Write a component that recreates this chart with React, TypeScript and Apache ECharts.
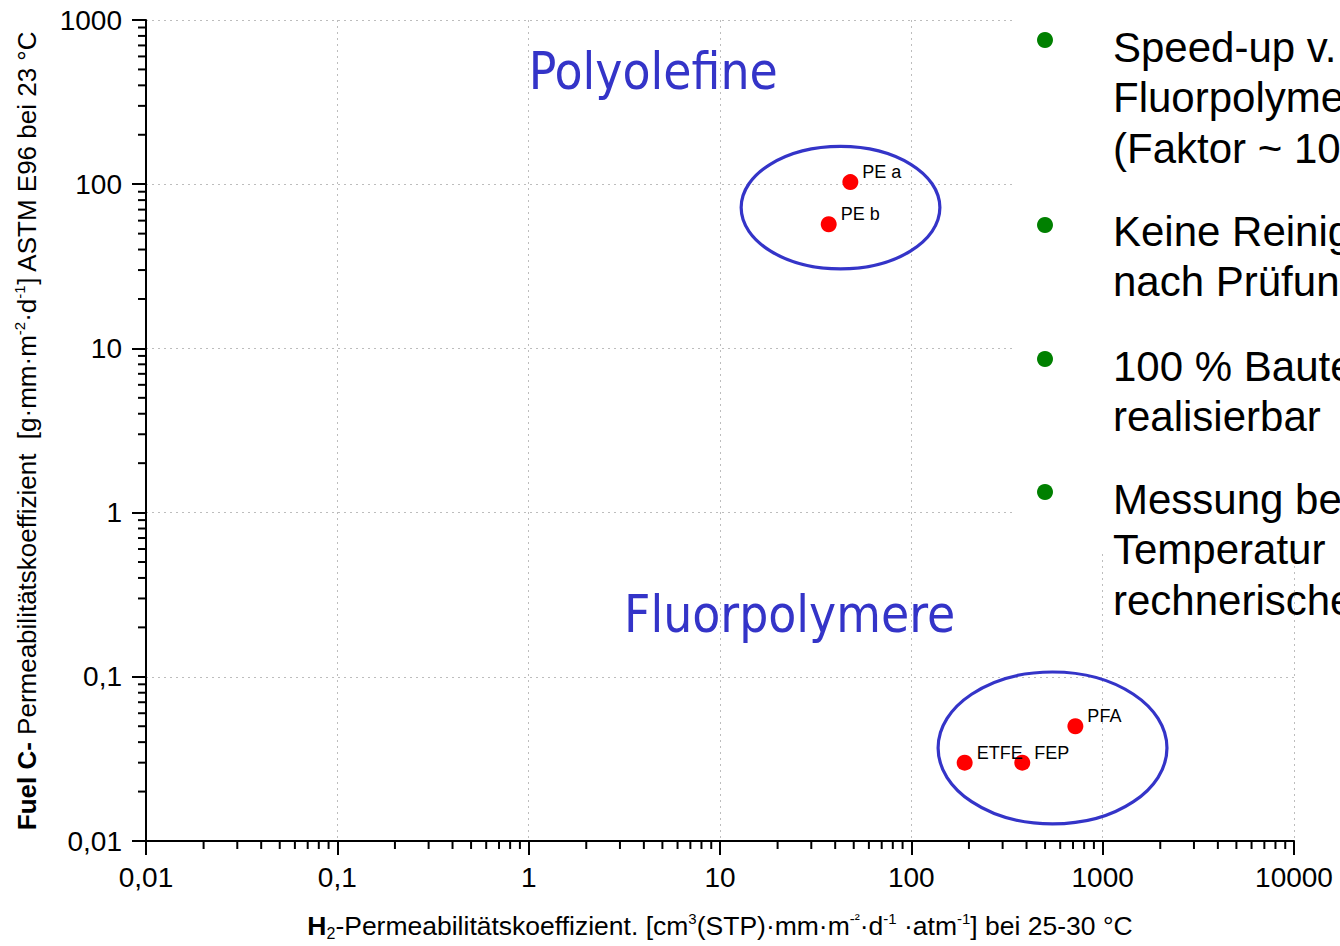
import React, { useEffect, useRef } from 'react';
import * as echarts from 'echarts';

// ---- data ----
const materials = ['PE a', 'PE b', 'ETFE', 'FEP', 'PFA'];
const h2Permeability = [48, 37, 190, 380, 720];
const fuelCPermeability = [103, 57, 0.03, 0.03, 0.05];

const groupNames = ['Polyolefine', 'Fluorpolymere'];
const groupLabelPos = [[1.0, 484], [3.15, 0.241]];
const groupEllipseX = [[12.9, 141], [138, 2168]];
const groupEllipseY = [[30.5, 170], [0.0127, 0.107]];

const xTickLabels = ['0,01', '0,1', '1', '10', '100', '1000', '10000'];
const yTickLabels = ['0,01', '0,1', '1', '10', '100', '1000'];

const bulletGroups = [
  ['Speed-up v.', 'Fluorpolymere', '(Faktor ~ 10)'],
  ['Keine Reinigung', 'nach Prüfung'],
  ['100 % Bauteile', 'realisierbar'],
  ['Messung bei', 'Temperatur', 'rechnerische'],
];

const X_MIN = 0.01, X_MAX = 10000, Y_MIN = 0.01, Y_MAX = 1000;

const minorTicks = (lo: number, hi: number) => {
  const out: number[] = [];
  for (let d = Math.round(Math.log10(lo)); d < Math.round(Math.log10(hi)); d++) {
    for (let m = 2; m <= 9; m++) out.push(Number((m * Math.pow(10, d)).toPrecision(3)));
  }
  return out;
};
const xMinor = minorTicks(X_MIN, X_MAX);
const yMinor = minorTicks(Y_MIN, Y_MAX);

const FONT = '"Liberation Sans", Arial, sans-serif';
const BLUE = '#3434c8';

const fmt = (v: number) => String(Number(v.toPrecision(6))).replace('.', ',');

const supStyle = { fontSize: 15, lineHeight: 15, verticalAlign: 'top', fontFamily: FONT, color: '#000' };
const subStyle = { fontSize: 16, lineHeight: 16, verticalAlign: 'bottom', fontFamily: FONT, color: '#000' };
const nStyleX = { fontSize: 26.5, fontFamily: FONT, color: '#000', lineHeight: 30 };
const bStyleX = { ...nStyleX, fontWeight: 'bold' };
const nStyleY = { fontSize: 26, fontFamily: FONT, color: '#000', lineHeight: 30 };
const bStyleY = { ...nStyleY, fontWeight: 'bold' };

export default function App() {
  const ref = useRef<HTMLDivElement>(null);
  useEffect(() => {
    const chart = echarts.init(ref.current!, null, { renderer: 'svg' });

    const bulletY = [47, 231, 366, 499];
    const dotY = [40, 225, 359, 492];
    const graphics: any[] = [
      { type: 'rect', z: 100, shape: { x: 1015, y: 0, width: 325, height: 550 }, style: { fill: '#fff' } },
    ];
    bulletGroups.forEach((lines, gi) => {
      graphics.push({ type: 'circle', z: 101, shape: { cx: 1045, cy: dotY[gi], r: 8 }, style: { fill: '#008000' } });
      lines.forEach((t, li) => {
        graphics.push({
          type: 'text', z: 101, x: 1113, y: bulletY[gi] + li * 50.5,
          style: { text: t, fontSize: 42, fontFamily: FONT, fill: '#000', verticalAlign: 'middle', align: 'left' },
        });
      });
    });

    const option: any = {
      animation: false,
      backgroundColor: '#fff',
      grid: { left: 146, right: 46, top: 20, bottom: 101, containLabel: false },
      xAxis: {
        type: 'log', logBase: 10, min: X_MIN, max: X_MAX,
        name: '{b|H}{sub|2}{n|-Permeabilitätskoeffizient. [cm}{sup|3}{n|(STP)·mm·m}{sup|-²}{n|·d}{sup|-1}{n| ·atm}{sup|-1}{n|] bei 25-30 °C}',
        nameLocation: 'middle', nameGap: 70,
        nameTextStyle: { ...nStyleX, rich: { n: nStyleX, b: bStyleX, sup: supStyle, sub: subStyle } },
        axisLine: { show: true, lineStyle: { color: '#000', width: 2 } },
        axisTick: { show: true, inside: false, length: 14, lineStyle: { color: '#000', width: 2 } },
        axisLabel: {
          margin: 22, fontSize: 28, fontFamily: FONT, color: '#000',
          formatter: (v: number) => { const s = fmt(v); return xTickLabels.includes(s) ? s : ''; },
        },
        splitLine: { show: true, lineStyle: { color: '#bdbdbd', width: 1, type: [2, 4] } },
      },
      yAxis: {
        type: 'log', logBase: 10, min: Y_MIN, max: Y_MAX,
        name: '{b|Fuel C-}{n| Permeabilitätskoeffizient  [g·mm·m}{sup|-2}{n|·d}{sup|-1}{n|] ASTM E96 bei 23 °C}',
        nameLocation: 'middle', nameRotate: 90, nameGap: 104,
        nameTextStyle: { ...nStyleY, rich: { n: nStyleY, b: bStyleY, sup: supStyle } },
        axisLine: { show: true, lineStyle: { color: '#000', width: 2 } },
        axisTick: { show: true, inside: false, length: 14, lineStyle: { color: '#000', width: 2 } },
        axisLabel: {
          margin: 24, fontSize: 28, fontFamily: FONT, color: '#000',
          formatter: (v: number) => { const s = fmt(v); return yTickLabels.includes(s) ? s : ''; },
        },
        splitLine: { show: true, lineStyle: { color: '#bdbdbd', width: 1, type: [2, 4] } },
      },
      series: [
        {
          type: 'custom', silent: true, clip: false, z: 3,
          data: xMinor.map((v) => [v, Y_MIN]),
          renderItem: (_p: any, api: any) => {
            const pt = api.coord([api.value(0), api.value(1)]);
            return { type: 'line', shape: { x1: pt[0], y1: pt[1], x2: pt[0], y2: pt[1] + 8 }, style: { stroke: '#000', lineWidth: 2 } };
          },
        },
        {
          type: 'custom', silent: true, clip: false, z: 3,
          data: yMinor.map((v) => [X_MIN, v]),
          renderItem: (_p: any, api: any) => {
            const pt = api.coord([api.value(0), api.value(1)]);
            return { type: 'line', shape: { x1: pt[0] - 8, y1: pt[1], x2: pt[0], y2: pt[1] }, style: { stroke: '#000', lineWidth: 2 } };
          },
        },
        {
          type: 'custom', silent: true, clip: false, z: 3,
          data: groupNames.map((_n, i) => [groupEllipseX[i][0], groupEllipseY[i][0], groupEllipseX[i][1], groupEllipseY[i][1]]),
          encode: { x: [0, 2], y: [1, 3] },
          renderItem: (_p: any, api: any) => {
            const a = api.coord([api.value(0), api.value(1)]);
            const b = api.coord([api.value(2), api.value(3)]);
            return {
              type: 'ellipse',
              shape: { cx: (a[0] + b[0]) / 2, cy: (a[1] + b[1]) / 2, rx: Math.abs(b[0] - a[0]) / 2, ry: Math.abs(b[1] - a[1]) / 2 },
              style: { fill: 'none', stroke: BLUE, lineWidth: 3.2 },
            };
          },
        },
        {
          type: 'custom', silent: true, clip: false, z: 3,
          data: groupNames.map((n, i) => ({ name: n, value: groupLabelPos[i] })),
          renderItem: (p: any, api: any) => {
            const pt = api.coord([api.value(0), api.value(1)]);
            return {
              type: 'text', x: pt[0], y: pt[1],
              style: { text: groupNames[p.dataIndex], fontSize: 51, fontFamily: '"DejaVu Sans Condensed", "DejaVu Sans", sans-serif', fill: BLUE, verticalAlign: 'middle', align: 'left' },
            };
          },
        },
        {
          type: 'scatter', z: 5,
          symbol: 'circle', symbolSize: 16,
          itemStyle: { color: '#ff0000', opacity: 1 },
          data: materials.map((m, i) => ({ name: m, value: [h2Permeability[i], fuelCPermeability[i]] })),
          label: {
            show: true, position: 'right', distance: 4, offset: [0, -10],
            formatter: (p: any) => p.name,
            fontSize: 18, fontFamily: FONT, color: '#000',
          },
        },
      ],
      graphic: graphics,
    };
    chart.setOption(option);
    return () => chart.dispose();
  }, []);
  return <div ref={ref} style={{ position: 'absolute', left: 0, top: 0, width: 1340, height: 946 }} />;
}
